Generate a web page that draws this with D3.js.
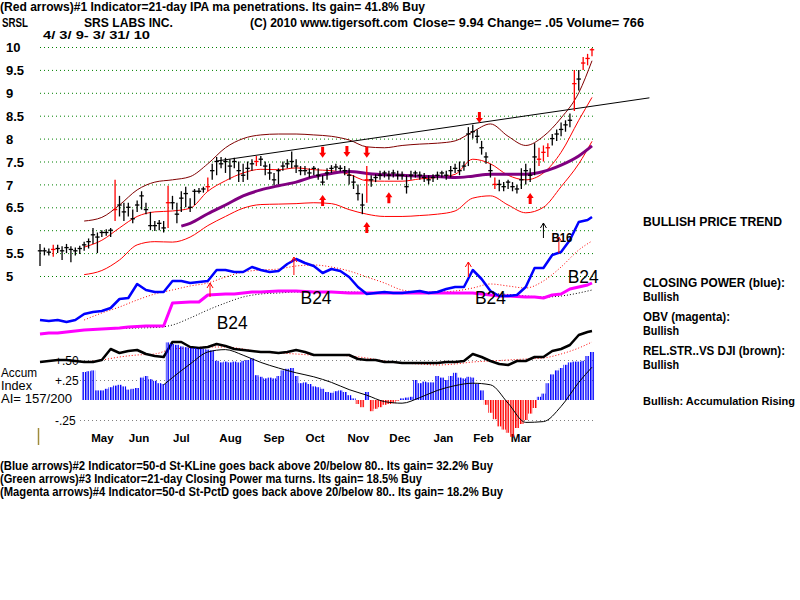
<!DOCTYPE html>
<html>
<head>
<meta charset="utf-8">
<title>SRSL</title>
<script src="https://cdn.jsdelivr.net/npm/d3@7/dist/d3.min.js"></script>
<style>
  body { margin: 0; background: #fff; }
  svg text { font-family: "Liberation Sans", Arial, sans-serif; }
</style>
</head>
<body>
<svg id="chart" width="800" height="600"></svg>
<script>
// Daily bars, one every two trading days (4/3/09 - 3/31/10)
const closes = [5.55,5.55,5.52,5.58,5.6,5.55,5.62,5.58,5.55,5.6,
  5.68,5.75,5.9,5.85,5.95,5.95,6.0,6.45,6.55,6.4,
  6.5,6.25,6.55,6.75,6.45,6.1,6.1,6.15,6.05,6.6,
  6.6,6.35,6.7,6.8,6.5,6.85,6.85,6.9,6.95,7.3,
  7.5,7.45,7.5,7.4,7.5,7.3,7.2,7.35,7.45,7.5,
  7.55,7.4,7.25,7.1,7.3,7.4,7.45,7.5,7.4,7.3,
  7.3,7.25,7.35,7.2,7.05,7.25,7.35,7.38,7.35,7.3,
  7.2,7.05,6.8,6.55,7.1,7.1,7.15,7.2,7.25,7.2,
  7.25,7.2,7.2,6.95,7.2,7.25,7.2,7.15,7.1,7.15,
  7.2,7.25,7.2,7.3,7.35,7.3,7.4,8.1,8.15,8.05,
  7.8,7.6,7.3,7.0,7.0,6.95,7.05,6.95,6.9,7.1,
  7.3,7.2,7.6,7.55,7.7,7.8,8.0,8.1,8.2,8.3,
  8.4,9.2,9.3,9.65,9.75,9.94];
const highs = [5.7,5.62,5.6,5.68,5.68,5.65,5.7,5.65,5.62,5.66,
  5.75,5.82,6.05,5.95,6.0,6.02,6.05,7.1,6.75,6.6,
  6.6,6.45,6.65,6.85,6.6,6.4,6.2,6.22,6.2,6.97,
  6.75,6.6,6.85,6.95,6.7,6.9,6.92,6.95,7.15,7.45,
  7.6,7.6,7.58,7.55,7.58,7.5,7.45,7.5,7.55,7.62,
  7.62,7.5,7.45,7.25,7.35,7.5,7.55,7.72,7.55,7.4,
  7.4,7.35,7.4,7.35,7.2,7.35,7.42,7.45,7.42,7.4,
  7.35,7.2,7.0,6.8,7.4,7.2,7.22,7.3,7.3,7.3,
  7.32,7.3,7.28,7.2,7.3,7.3,7.28,7.25,7.2,7.22,
  7.28,7.3,7.3,7.4,7.45,7.5,7.5,8.25,8.3,8.2,
  7.95,7.7,7.45,7.15,7.1,7.05,7.1,7.05,7.0,7.35,
  7.45,7.35,7.9,7.8,7.85,7.9,8.1,8.2,8.35,8.4,
  8.55,9.5,9.5,9.78,9.85,9.98];
const lows = [5.22,5.45,5.45,5.42,5.5,5.35,5.5,5.3,5.45,5.48,
  5.55,5.6,5.7,5.5,5.85,5.88,5.85,6.2,6.3,6.2,
  6.3,6.15,6.4,6.45,6.35,6.0,5.98,6.0,5.95,6.05,
  6.45,6.15,6.4,6.5,6.4,6.55,6.8,6.82,6.85,7.1,
  7.2,7.35,7.25,7.1,7.35,7.05,7.05,7.1,7.3,7.4,
  7.4,7.2,7.1,6.98,7.0,7.3,7.35,7.35,7.25,7.2,
  7.2,7.15,7.2,7.1,6.98,7.1,7.25,7.3,7.28,7.2,
  7.0,6.9,6.65,6.35,6.6,6.95,7.05,7.1,7.15,7.1,
  7.15,7.1,7.1,6.8,7.1,7.15,7.1,7.05,7.0,7.05,
  7.1,7.15,7.1,7.15,7.25,7.2,7.3,7.4,8.0,7.9,
  7.65,7.45,7.15,6.9,6.85,6.85,6.9,6.85,6.8,6.9,
  7.0,7.05,7.2,7.4,7.5,7.6,7.85,7.95,8.05,8.15,
  8.25,8.6,9.05,9.5,9.6,9.8];
const redBars = [3, 17, 29, 38, 49, 74, 103, 113, 114, 115, 121, 123, 124, 125];

// Bands, sampled every 8 trading days from day 20
const upperBand = [6.2,6.28,6.55,6.88,7.05,7.1,7.17,7.45,7.8,8.0,8.08,8.1,8.1,8.08,8.05,
  7.97,7.82,7.8,7.85,7.88,7.9,7.95,8.15,8.32,8.05,7.85,8.05,8.45,9.0,9.7];
const midBand = [5.63,5.78,6.05,6.3,6.4,6.42,6.48,6.85,7.08,7.25,7.33,7.32,7.36,7.32,7.3,
  7.22,7.08,7.07,7.07,7.12,7.15,7.22,7.55,7.45,7.2,7.1,7.25,7.7,8.4,8.9];
const lowerBand = [5.03,5.12,5.35,5.68,5.75,5.74,5.85,6.1,6.3,6.48,6.56,6.57,6.58,6.6,6.58,
  6.45,6.35,6.3,6.3,6.32,6.35,6.42,6.7,6.75,6.55,6.38,6.5,6.95,7.45,7.94];
// 50-day average, from day 64
const ma50 = [6.09,6.15,6.36,6.55,6.75,6.88,6.97,7.05,7.17,7.24,7.28,7.24,7.21,7.2,7.18,
  7.17,7.15,7.18,7.22,7.22,7.22,7.28,7.42,7.62,7.84];
const trend = [[80, 7.51], [276, 8.89]];
const sellArrows = [[128, 7.58], [139, 7.6], [148, 7.58], [199, 8.34]];
const buyArrows = [[128, 6.77], [158, 6.83], [148, 6.18], [222, 6.81]];

// Indicator lines, every 4 trading days
const closingPower = [5,4,5,3,5,11,13,14,17,26,27,41,35,33,33,44,44,42,43,44,
  55,55,53,53,58,55,53,54,61,66,62,59,52,56,54,48,38,31,32,33,
  32,32,33,34,32,33,36,38,38,55,46,34,29,29,30,38,57,57,70,73,
  85,103,105,108];
const obv = [-9,-8,-8,-7,-6,-5,-4.5,-4,-3.5,-3,-2,-1.5,-1,-1,-1,22,22.5,23,23,30,
  30.5,31,31,32,33,33,33.5,34,34,34,33.5,33,33,33,32.5,32,32,32,32,32,
  32,32,32,32,32,32,32,32,32,32,31,30,29,29,28.5,28,28,27,30,31,
  36,38,40,42];
const relStrength = [13,14,15,15,14,13,13,15,26,22,24,25,21,19,18,33,33,28,27,28,
  31,29,26,25,24,23,23,22,23,25,23,20,20,20,20,20,16,15,15,13,
  13,12,12,12,12,12,13,13,14,21,18,14,11,10,14,14,18,18,24,26,
  30,40,43,44];
// their averages, every 8 trading days from day 20
const cpAvg = [5,12,18,25,31,35,39,42,48,53,55,56,59,60,58,54,48,42,35,33,33,34,37,41,39,37,44,58,75,84];
const obvAvg = [-5,-4,-3.5,-3,-2.5,0,7,15,22,28,31,32,33,33,33,33,32.5,32,32,32,32,32,32,31.5,30.5,29,28,29,32,35];
const rsAvg = [13,15,18,20,21,26,27,28,28,26,23,22,21,20,20,19,17,14,12,11,10,11,13,14,15,16,17,21,27,33];
const cpSignals = [[77, 42, 28], [115, 68, 50], [194, 63, 48], [235, 88, 72]];
const b24Marks = [[80, -4], [118, 21], [197, 21], [239, 42]];

// Accumulation index, every 2 trading days from day 20
const accum = [0.35,0.36,0.37,0.12,0.12,0.14,0.16,0.18,0.19,0.17,
  0.13,0.14,0.15,0.28,0.3,0.26,0.24,0.21,0.2,0.72,
  0.7,0.69,0.67,0.66,0.65,0.65,0.64,0.64,0.63,0.62,
  0.49,0.47,0.48,0.47,0.48,0.47,0.49,0.5,0.52,0.31,
  0.29,0.27,0.28,0.27,0.3,0.37,0.39,0.4,0.3,0.21,
  0.22,0.2,0.17,0.16,0.14,0.1,0.09,0.11,0.12,0.1,
  0.06,0.02,-0.05,-0.09,0.1,-0.14,-0.11,-0.09,-0.06,-0.05,
  -0.04,-0.01,0.02,0.03,0.04,0.25,0.21,0.23,0.22,0.22,
  0.3,0.28,0.25,0.3,0.34,0.28,0.27,0.29,0.28,0.2,
  0.12,-0.06,-0.16,-0.24,-0.33,-0.37,-0.41,-0.46,-0.35,-0.3,
  -0.25,-0.17,-0.1,0.04,0.08,0.21,0.32,0.37,0.4,0.44,
  0.47,0.48,0.48,0.49,0.55,0.6];
// its average, from day 56
const accumAvg = [0.19,0.28,0.45,0.6,0.63,0.56,0.47,0.4,0.34,0.29,0.22,0.13,0.06,-0.02,-0.04,
  0.03,0.12,0.18,0.21,0.19,-0.04,-0.28,-0.27,-0.08,0.22,0.41];

const priceTicks = [10, 9.5, 9, 8.5, 8, 7.5, 7, 6.5, 6, 5.5, 5];
const accTicks = [0.5, 0.25, -0.25];
const accLabels = ['+.50', '+.25', '-.25'];
const monthNames = ['May', 'Jun', 'Jul', 'Aug', 'Sep', 'Oct', 'Nov', 'Dec', 'Jan', 'Feb', 'Mar'];
const monthDays = [23, 40, 60, 81, 101, 120, 139, 158, 178, 196, 213];

// x positions (trading days) of each series
const barDays = closes.map((d, i) => i * 2);
const lineDays = d3.range(0, 249, 4).concat([250]);
const knotDays = d3.range(20, 245, 8).concat([250]);
const maDays = [64].concat(d3.range(68, 245, 8), [250]);
const accDays = d3.range(20, 251, 2);
const accAvgDays = [56].concat(d3.range(60, 245, 8), [250]);

const svg = d3.select('#chart');
const x = d3.scaleLinear().domain([0, 250]).range([40, 592]);
const yP = d3.scaleLinear().domain([5, 10]).range([276, 47]);
const yCP = d3.scaleLinear().domain([0, 100]).range([325, 225]);
const yRS = d3.scaleLinear().domain([0, 50]).range([375, 325]);
const yAI = d3.scaleLinear().domain([-0.5, 0.5]).range([440, 360]);

const zip = (days, vals) => vals.map((v, i) => [days[i], v]);

function drawLine(pts, ys, stroke, width, dash, curve) {
    svg.append('path')
        .datum(pts)
        .attr('fill', 'none')
        .attr('stroke', stroke)
        .attr('stroke-width', width)
        .attr('stroke-dasharray', dash || null)
        .attr('stroke-linejoin', 'round')
        .attr('d', d3.line().x(d => x(d[0])).y(d => ys(d[1])).curve(curve || d3.curveLinear));
}

function label(px, py, str, size, weight, len) {
    const t = svg.append('text')
        .attr('x', px).attr('y', py)
        .attr('font-size', size)
        .attr('font-weight', weight || 'normal')
        .attr('fill', '#000')
        .text(str);
    if (len) t.attr('textLength', len).attr('lengthAdjust', 'spacingAndGlyphs');
    return t;
}

// stripe patterns for the accumulation histogram
const defs = svg.append('defs');
[['stripeBlue', '#0000ff'], ['stripeRed', '#ff0000']].forEach(([id, c]) => {
    const p = defs.append('pattern').attr('id', id)
        .attr('patternUnits', 'userSpaceOnUse')
        .attr('width', 2.5).attr('height', 10);
    p.append('rect').attr('width', 1.5).attr('height', 10).attr('fill', c);
});

// Price grid + labels
const gy = svg.append('g').attr('transform', 'translate(40,0)')
    .call(d3.axisLeft(yP).tickValues(priceTicks).tickSize(-555).tickFormat(d3.format('')));
gy.select('.domain').remove();
gy.selectAll('.tick line').attr('stroke', '#008000').attr('stroke-dasharray', '1,3');
gy.selectAll('.tick text')
    .attr('x', -34).attr('dy', '0.36em')
    .attr('text-anchor', 'start')
    .attr('font-size', 13).attr('font-weight', 'bold').attr('fill', '#000');

// Accumulation grid + labels
const ga = svg.append('g').attr('transform', 'translate(80,0)')
    .call(d3.axisLeft(yAI).tickValues(accTicks).tickSize(-515).tickFormat((d, i) => accLabels[i]));
ga.select('.domain').remove();
ga.selectAll('.tick line').attr('stroke', '#808080').attr('stroke-dasharray', '1,3');
ga.selectAll('.tick text')
    .attr('x', -25).attr('dy', '0.38em')
    .attr('text-anchor', 'start')
    .attr('font-size', 12).attr('fill', '#000');

// Month labels
const gx = svg.append('g').attr('transform', 'translate(0,430)')
    .call(d3.axisBottom(x).tickValues(monthDays).tickFormat((d, i) => monthNames[i]).tickSize(0));
gx.select('.domain').remove();
gx.selectAll('.tick text')
    .attr('y', 12).attr('dy', 0)
    .attr('text-anchor', 'start')
    .attr('font-size', 11.5).attr('font-weight', 'bold').attr('fill', '#000');

svg.append('line').attr('x1', 38.5).attr('x2', 38.5).attr('y1', 428).attr('y2', 445)
    .attr('stroke', '#a08c3c').attr('stroke-width', 1.5);

// Bands and averages
drawLine(zip(knotDays, upperBand), yP, '#800000', 1, null, d3.curveMonotoneX);
drawLine(zip(knotDays, midBand), yP, '#ff0000', 1, null, d3.curveMonotoneX);
drawLine(zip(knotDays, lowerBand), yP, '#ff0000', 1, null, d3.curveMonotoneX);
drawLine(zip(maDays, ma50), yP, '#800080', 3, null, d3.curveMonotoneX);
drawLine(trend, yP, '#000', 1);

// Price bars
const bars = svg.append('g').selectAll('g')
    .data(closes.map((c, i) => ({ day: barDays[i], c: c, h: highs[i], l: lows[i], red: redBars.includes(i) })))
    .join('g')
    .attr('stroke', d => d.red ? '#ff0000' : '#000')
    .attr('stroke-width', 1.3);
bars.append('line')
    .attr('x1', d => x(d.day)).attr('x2', d => x(d.day))
    .attr('y1', d => yP(d.h)).attr('y2', d => yP(d.l));
bars.append('line')
    .attr('x1', d => x(d.day) - 2.2).attr('x2', d => x(d.day) + 2.2)
    .attr('y1', d => yP(d.c)).attr('y2', d => yP(d.c));

// Signal arrows
function fatArrow(x0, yTip, s) {
    const pts = [[0, 0], [-3.5, 5], [-1.5, 5], [-1.5, 11], [1.5, 11], [1.5, 5], [3.5, 5]]
        .map(([a, b]) => [x0 + a, yTip + s * b]);
    svg.append('path').attr('d', 'M' + pts.join('L') + 'Z').attr('fill', '#ff0000');
}
sellArrows.forEach(d => fatArrow(x(d[0]), yP(d[1]), -1));
buyArrows.forEach(d => fatArrow(x(d[0]), yP(d[1]), 1));

function thinArrow(x0, yTop, yBot, color) {
    svg.append('path')
        .attr('d', `M${x0},${yBot}V${yTop}M${x0 - 3},${yTop + 5}L${x0},${yTop}L${x0 + 3},${yTop + 5}`)
        .attr('stroke', color).attr('fill', 'none').attr('stroke-width', 1);
}

// Closing power, OBV
drawLine(zip(knotDays, cpAvg), yCP, '#ff0000', 1, '1,2', d3.curveMonotoneX);
drawLine(zip(knotDays, obvAvg), yCP, '#000', 1, '1,2', d3.curveMonotoneX);
drawLine(zip(lineDays, obv), yCP, '#ff00ff', 3);
drawLine(zip(lineDays, closingPower), yCP, '#0000ff', 2.5);
cpSignals.forEach(d => thinArrow(x(d[0]), yCP(d[1]), yCP(d[2]), '#ff0000'));
thinArrow(x(228), yCP(102), yCP(87), '#000');
label(x(228) + 8, 242, 'B16', 13, 'bold', 21);
b24Marks.forEach(d => label(x(d[0]), yCP(d[1]), 'B24', 18, 'normal', 31));

// Accum labels (drawn before RS line so the line overlaps)
label(1, 377, 'Accum', 12, 'normal', 36);
label(1, 390, 'Index', 12, 'normal', 31);
label(1, 403, 'AI= 157/200', 12, 'normal', 71);

// Relative strength
drawLine(zip(knotDays, rsAvg), yRS, '#ff0000', 1, '1,2', d3.curveMonotoneX);
drawLine(zip(lineDays, relStrength), yRS, '#000', 2.5);

// Accumulation histogram
svg.append('g').selectAll('rect')
    .data(zip(accDays, accum))
    .join('rect')
    .attr('x', d => x(d[0] - 1))
    .attr('width', x(2) - x(0))
    .attr('y', d => yAI(Math.max(0, d[1])))
    .attr('height', d => Math.abs(yAI(d[1]) - yAI(0)))
    .attr('fill', d => d[1] >= 0 ? 'url(#stripeBlue)' : 'url(#stripeRed)');
drawLine(zip(accAvgDays, accumAvg), yAI, '#000', 1, null, d3.curveMonotoneX);

// Header text
label(0, 11, '(Red arrows)#1 Indicator=21-day IPA ma penetrations. Its gain= 41.8% Buy', 12, 'bold', 425);
label(2, 27, 'SRSL', 12, 'bold', 26);
label(84, 27, 'SRS LABS INC.', 12, 'bold', 89);
label(250, 27, '(C) 2010 www.tigersoft.com', 12, 'bold', 158);
label(413, 27, 'Close=  9.94  Change= .05 Volume= 766', 12, 'bold', 231);
label(43, 39, '4/ 3/ 9- 3/ 31/ 10', 11, 'bold', 107);

// Right-side status text
label(643, 226, 'BULLISH PRICE TREND', 12, 'bold', 139);
label(643, 287, 'CLOSING POWER (blue):', 12, 'bold', 142);
label(643, 301, 'Bullish', 12, 'bold', 36);
label(643, 321, 'OBV (magenta):', 12, 'bold', 87);
label(643, 335, 'Bullish', 12, 'bold', 36);
label(643, 355, 'REL.STR..VS DJI (brown):', 12, 'bold', 142);
label(643, 369, 'Bullish', 12, 'bold', 36);
label(643, 405, 'Bullish: Accumulation Rising', 11, 'bold', 152);

// Footer text
label(0, 470, '(Blue arrows)#2 Indicator=50-d St-KLine goes back above 20/below 80.. Its gain= 32.2% Buy', 12, 'bold', 493);
label(0, 483, '(Green arrows)#3 Indicator=21-day Closing Power ma turns. Its gain= 18.5% Buy', 12, 'bold', 422);
label(0, 496, '(Magenta arrows)#4 Indicator=50-d St-PctD goes back above 20/below 80.. Its gain= 18.2% Buy', 12, 'bold', 503);
</script>
</body>
</html>
